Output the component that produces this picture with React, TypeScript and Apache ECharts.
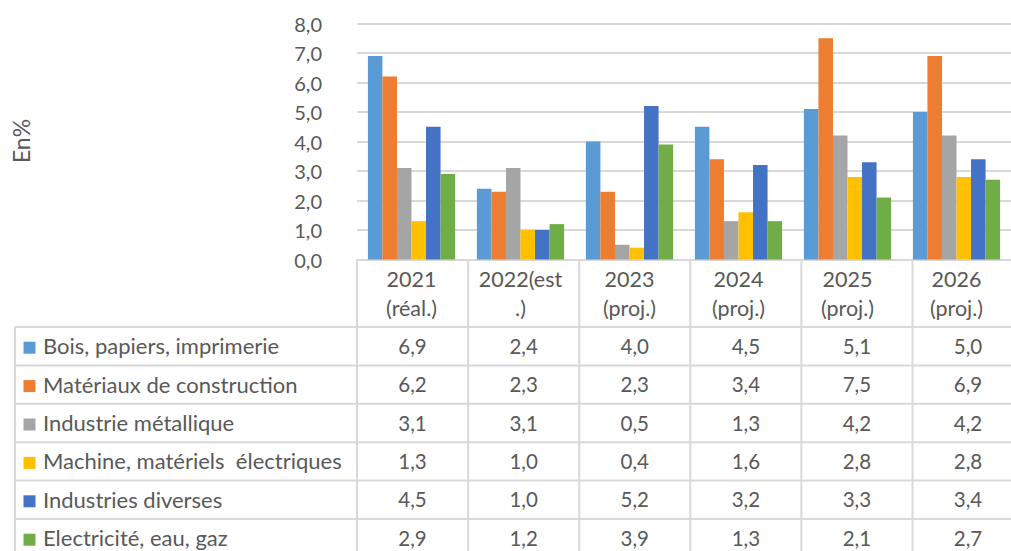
import React, { useEffect, useRef } from "react";
import * as echarts from "echarts";

const categories = ["2021\n(réal.)", "2022(est\n.)", "2023\n(proj.)", "2024\n(proj.)", "2025\n(proj.)", "2026\n(proj.)"];
const seriesNames = [
  "Bois, papiers, imprimerie",
  "Matériaux de construction",
  "Industrie métallique",
  "Machine, matériels  électriques",
  "Industries diverses",
  "Electricité, eau, gaz",
];
const bois = [6.9, 2.4, 4.0, 4.5, 5.1, 5.0];
const materiaux = [6.2, 2.3, 2.3, 3.4, 7.5, 6.9];
const metallique = [3.1, 3.1, 0.5, 1.3, 4.2, 4.2];
const machine = [1.3, 1.0, 0.4, 1.6, 2.8, 2.8];
const diverses = [4.5, 1.0, 5.2, 3.2, 3.3, 3.4];
const electricite = [2.9, 1.2, 3.9, 1.3, 2.1, 2.7];
const seriesValues = [bois, materiaux, metallique, machine, diverses, electricite];
const colors = ["#5B9BD5", "#ED7D31", "#A5A5A5", "#FFC000", "#4472C4", "#70AD47"];
const yTicks = { min: 0, max: 8, interval: 1 };
const axisTitle = "En%";

const FONT = "Lato, 'Open Sans', sans-serif";
const TXT = "#595959";
const LINE = "#D9D9D9";

export default function App() {
  const ref = useRef<HTMLDivElement>(null);
  useEffect(() => {
    if (!ref.current) return;
    const chart = echarts.init(ref.current, undefined, { renderer: "svg" });
    const gridLeft = 357;
    const gridTop = 23.5;
    const gridHeight = 236;
    const colW = 111.1;
    const gridWidth = colW * categories.length;
    const tableTop = 327;
    const rowH = 38.4;
    const tableLeft = 15;
    const axisY = gridTop + gridHeight;
    const tableBottom = tableTop + rowH * seriesNames.length + 2;
    const right = gridLeft + gridWidth;

    const fmt = (v: number) => v.toFixed(1).replace(".", ",");

    const graphics: any[] = [];
    for (let k = 0; k <= seriesNames.length; k++) {
      const y = tableTop + k * rowH;
      graphics.push({ type: "line", shape: { x1: tableLeft, y1: y, x2: right, y2: y }, style: { stroke: LINE, lineWidth: 2 }, silent: true });
    }
    graphics.push({ type: "line", shape: { x1: tableLeft, y1: tableTop, x2: tableLeft, y2: tableBottom }, style: { stroke: LINE, lineWidth: 2 }, silent: true });
    for (let i = 0; i <= categories.length; i++) {
      const x = gridLeft + i * colW;
      graphics.push({ type: "line", shape: { x1: x, y1: axisY, x2: x, y2: tableBottom }, style: { stroke: LINE, lineWidth: 2 }, silent: true });
    }
    seriesNames.forEach((name, r) => {
      const cy = tableTop + r * rowH + rowH / 2;
      graphics.push({ type: "rect", shape: { x: 23.5, y: cy - 4.5, width: 12, height: 12 }, style: { fill: colors[r] }, silent: true });
      graphics.push({
        type: "text", x: 43, y: cy - 0.5,
        style: { text: name, fill: TXT, font: `22px ${FONT}`, textAlign: "left", textVerticalAlign: "middle" },
        silent: true,
      });
      seriesValues[r].forEach((v, c) => {
        graphics.push({
          type: "text", x: gridLeft + c * colW + colW / 2, y: cy - 0.5,
          style: { text: fmt(v), fill: TXT, font: `20.5px ${FONT}`, textAlign: "center", textVerticalAlign: "middle" },
          silent: true,
        });
      });
    });
    graphics.push({
      type: "text", x: 21, y: 141, rotation: Math.PI / 2,
      style: { text: axisTitle, fill: TXT, font: `23px ${FONT}`, textAlign: "center", textVerticalAlign: "middle" },
      silent: true,
    });

    chart.setOption({
      animation: false,
      backgroundColor: "#ffffff",
      textStyle: { fontFamily: FONT },
      grid: { left: gridLeft, top: gridTop, width: gridWidth, height: gridHeight, containLabel: false },
      xAxis: {
        type: "category",
        data: categories,
        axisTick: { show: false },
        axisLine: { show: true, lineStyle: { color: LINE, width: 2 } },
        axisLabel: { color: TXT, fontSize: 21.5, fontFamily: FONT, lineHeight: 29, margin: 5, interval: 0 },
      },
      yAxis: {
        type: "value",
        min: yTicks.min,
        max: yTicks.max,
        interval: yTicks.interval,
        axisLine: { show: false },
        axisTick: { show: false },
        splitLine: { lineStyle: { color: LINE, width: 2 } },
        axisLabel: { color: TXT, fontSize: 20, fontFamily: FONT, margin: 35, formatter: (v: number) => fmt(v) },
      },
      series: seriesNames.map((name, i) => ({
        name,
        type: "bar",
        data: seriesValues[i],
        itemStyle: { color: colors[i] },
        barGap: "0%",
        barCategoryGap: "20%",
      })),
      graphic: graphics,
    });
    return () => chart.dispose();
  }, []);
  return <div ref={ref} style={{ position: "absolute", left: 0, top: 0, width: 1011, height: 551 }} />;
}
